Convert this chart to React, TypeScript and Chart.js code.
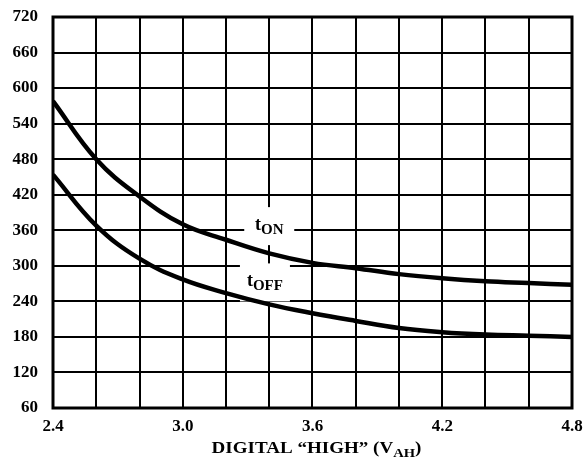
import React, { useEffect, useRef } from "react";
import { Chart, registerables } from "chart.js";

Chart.register(...registerables);

const xValues = [2.4, 2.6, 2.8, 3.0, 3.2, 3.4, 3.6, 3.8, 4.0, 4.2, 4.4, 4.6, 4.8];
const tOn = [578, 480, 417, 370, 344, 321, 305, 296, 286, 279, 274, 271, 268];
const tOff = [454, 368, 312, 277, 254, 235, 220, 207, 195, 188, 184, 182, 180];
const xLabelValues = [2.4, 3.0, 3.6, 4.2, 4.8];
const yMin = 60;
const yMax = 720;
const yStep = 60;
const xMin = 2.4;
const xMax = 4.8;
const xStep = 0.2;
const curveLabels = [
  { main: "t", sub: "ON", x: 3.4, y: 367 },
  { main: "t", sub: "OFF", x: 3.38, y: 272 },
];
const titleMain = "DIGITAL \u201CHIGH\u201D (V";
const titleSub = "AH";
const titleEnd = ")";

const FONT = "'Liberation Serif', 'Times New Roman', serif";

const labelPlugin = {
  id: "curveLabels",
  beforeDatasetsDraw(chart: any) {
    const { ctx, scales } = chart;
    ctx.save();
    for (const l of curveLabels) {
      const cx = scales.x.getPixelForValue(l.x);
      const cy = scales.y.getPixelForValue(l.y);
      ctx.fillStyle = "#fff";
      ctx.fillRect(cx - 25, cy - 19, 50, 38);
      ctx.fillStyle = "#000";
      ctx.textBaseline = "alphabetic";
      ctx.font = `bold 18px ${FONT}`;
      const w1 = ctx.measureText(l.main).width;
      ctx.font = `bold 15px ${FONT}`;
      const w2 = ctx.measureText(l.sub).width;
      const start = cx - (w1 + w2) / 2;
      ctx.font = `bold 18px ${FONT}`;
      ctx.fillText(l.main, start, cy + 4);
      ctx.font = `bold 15px ${FONT}`;
      ctx.fillText(l.sub, start + w1, cy + 8);
    }
    ctx.restore();
  },
  afterDraw(chart: any) {
    const { ctx, chartArea } = chart;
    ctx.save();
    ctx.fillStyle = "#000";
    ctx.textBaseline = "alphabetic";
    const sx = 1.12;
    ctx.font = `bold 17px ${FONT}`;
    const w1 = ctx.measureText(titleMain).width;
    const w3 = ctx.measureText(titleEnd).width;
    ctx.font = `bold 13px ${FONT}`;
    const w2 = ctx.measureText(titleSub).width;
    const cx = (chartArea.left + chartArea.right) / 2 + 4;
    const total = (w1 + w2 + w3) * sx;
    const base = 453;
    ctx.translate(cx - total / 2, base);
    ctx.scale(sx, 1);
    ctx.font = `bold 17px ${FONT}`;
    ctx.fillText(titleMain, 0, 0);
    ctx.font = `bold 13px ${FONT}`;
    ctx.fillText(titleSub, w1, 4);
    ctx.font = `bold 17px ${FONT}`;
    ctx.fillText(titleEnd, w1 + w2, 0);
    ctx.setTransform(1, 0, 0, 1, 0, 0);
    // frame
    ctx.strokeStyle = "#000";
    ctx.lineWidth = 3;
    ctx.strokeRect(chartArea.left, chartArea.top, chartArea.right - chartArea.left, chartArea.bottom - chartArea.top);
    ctx.restore();
  },
};

export default function App() {
  const ref = useRef<HTMLCanvasElement>(null);
  useEffect(() => {
    if (!ref.current) return;
    const chart = new Chart(ref.current, {
      type: "line",
      data: {
        datasets: [
          {
            label: "tON",
            data: xValues.map((x, i) => ({ x, y: tOn[i] })),
            borderColor: "#000",
            borderWidth: 4.5,
            pointRadius: 0,
            tension: 0.4,
            fill: false,
          },
          {
            label: "tOFF",
            data: xValues.map((x, i) => ({ x, y: tOff[i] })),
            borderColor: "#000",
            borderWidth: 4.5,
            pointRadius: 0,
            tension: 0.4,
            fill: false,
          },
        ],
      },
      options: {
        responsive: false,
        devicePixelRatio: 1,
        animation: false,
        layout: { padding: { left: 0, right: 13, top: 17, bottom: 0 } },
        plugins: { legend: { display: false }, tooltip: { enabled: false } },
        scales: {
          x: {
            type: "linear",
            min: xMin,
            max: xMax,
            ticks: {
              stepSize: xStep,
              autoSkip: false,
              maxRotation: 0,
              padding: 0,
              color: "#000",
              font: { family: FONT, size: 17, weight: "bold" },
              callback: (v: any) => {
                const n = Number(v);
                return xLabelValues.some((t) => Math.abs(t - n) < 1e-6) ? n.toFixed(1) : "";
              },
            },
            grid: { color: "#000", lineWidth: 2, drawTicks: true, tickLength: 8, tickColor: "rgba(0,0,0,0)" },
            border: { display: false },
            afterFit: (s: any) => {
              s.height = 57;
            },
          },
          y: {
            type: "linear",
            min: yMin,
            max: yMax,
            ticks: {
              stepSize: yStep,
              padding: 0,
              color: "#000",
              font: { family: FONT, size: 17, weight: "bold" },
            },
            grid: { color: "#000", lineWidth: 2, drawTicks: true, tickLength: 15, tickColor: "rgba(0,0,0,0)" },
            border: { display: false },
            afterFit: (s: any) => {
              s.width = 53;
            },
          },
        },
      },
      plugins: [labelPlugin],
    } as any);
    return () => chart.destroy();
  }, []);
  return (
    <div style={{ position: "absolute", left: 0, top: 0, width: 585, height: 465, background: "#fff" }}>
      <canvas ref={ref} width={585} height={465} />
    </div>
  );
}
